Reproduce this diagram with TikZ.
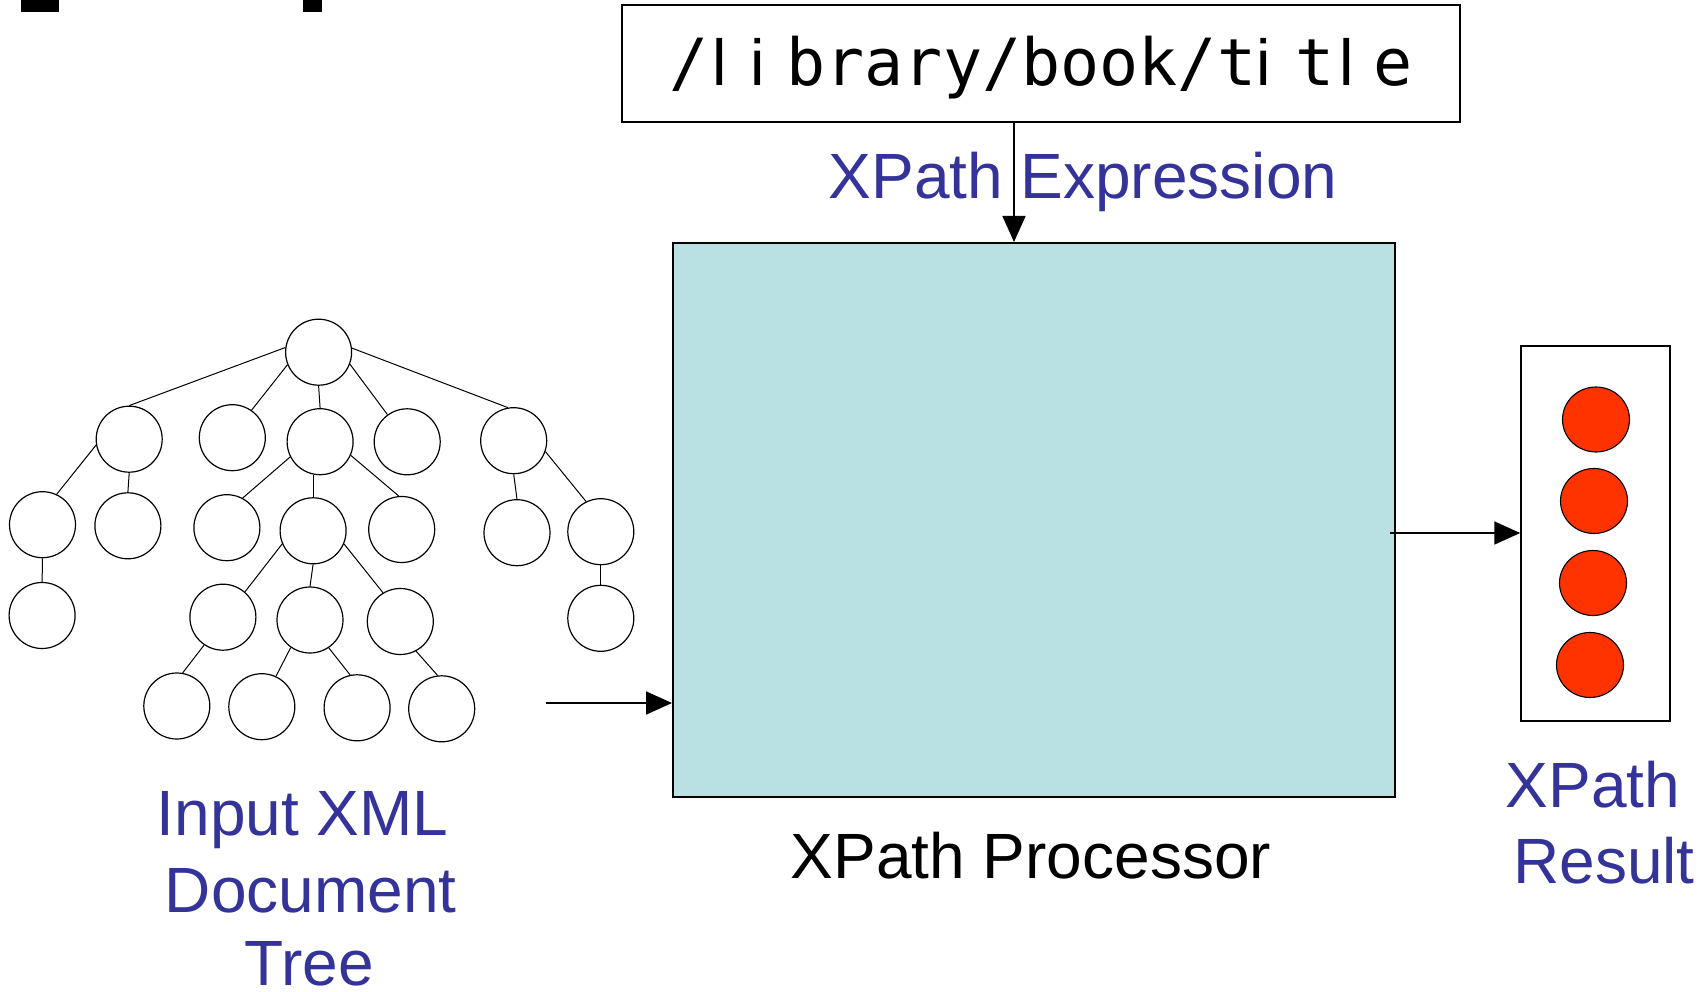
\documentclass[tikz,border=0pt]{standalone}
\usepackage{fontspec}
\setmainfont{Liberation Sans}
\newfontfamily\pathfont{DejaVu Sans Mono}
\newfontfamily\barfont{Liberation Sans}
\usetikzlibrary{arrows.meta,shapes.geometric}
\definecolor{labelblue}{RGB}{51,51,153}
\definecolor{procfill}{RGB}{185,224,227}
\definecolor{hitred}{RGB}{255,51,0}

% plain bar glyph (l, i) set in one fixed-pitch cell of the path font
\newcommand\barcell[2]{\makebox[0.602em][l]{\hspace{#1}{\barfont #2}}}

\tikzset{
  xnode/.style={circle, draw, line width=1.2pt, minimum size=66pt, inner sep=0pt},
  xedge/.style={line width=1pt},
  flow/.style={line width=1.8pt, -{Triangle[length=26pt,width=23pt]}},
  hit/.style={ellipse, draw, line width=1.1pt, fill=hitred, minimum width=67pt, minimum height=65pt, inner sep=0pt},
  big/.style={font=\fontsize{64}{77}\selectfont},
  bluelabel/.style={big, text=labelblue, inner sep=0pt, anchor=base},
  blacklabel/.style={big, inner sep=0pt, anchor=base},
}

\begin{document}
\begin{tikzpicture}[x=1pt,y=-1pt]
\useasboundingbox (0,0) rectangle (1708,992);
\fill[white] (0,0) rectangle (1708,992);

% fragments of the heading lettering at the top edge
\fill (21,0) rectangle (59,12);
\fill (303,0) rectangle (322,12);

% XPath expression box
\node[draw, line width=1.8pt, minimum width=838pt, minimum height=117pt, inner sep=0pt]
  (expr) at (1041,63.5) {};
\node[inner sep=0pt, anchor=base west, font=\pathfont\fontsize{65}{78}\selectfont] (exprtext) at (669,86)
  {/\barcell{4pt}{l}\barcell{3pt}{i}brary/book/t\barcell{0pt}{i}t\barcell{5pt}{l}e};

% processor
\node[draw, line width=2pt, fill=procfill, minimum width=721.5pt, minimum height=554pt, inner sep=0pt]
  (proc) at (1033.75,520) {};

% result set
\node[draw, line width=1.5pt, minimum width=149pt, minimum height=375pt, inner sep=0pt]
  (res) at (1595.5,533.5) {};
\node[hit] (r1) at (1596,419.5) {};
\node[hit] (r2) at (1594,501) {};
\node[hit] (r3) at (1593,583) {};
\node[hit] (r4) at (1590,665) {};

% labels
\node[bluelabel] (exprlab) at (1083,199) {XPath Expression};
\node[blacklabel] (proclab) at (1031,878) {XPath Processor};
\node[bluelabel] (reslabA) at (1593,807) {XPath};
\node[bluelabel] (reslabB) at (1604,883) {Result};
\node[bluelabel] (inlabA) at (302.5,835) {Input XML};
\node[bluelabel] (inlabB) at (310.8,912) {Document};
\node[bluelabel] (inlabC) at (309,985) {Tree};

% document tree
\node[xnode] (root) at (318.6,352.2) {};
\node[xnode] (A) at (129.2,439.2) {};
\node[xnode] (B) at (232.3,437.7) {};
\node[xnode] (C) at (320.1,441.7) {};
\node[xnode] (D) at (407.2,441.8) {};
\node[xnode] (E) at (513.7,440.7) {};
\node[xnode] (A1) at (42.5,524.7) {};
\node[xnode] (A2) at (127.9,525.8) {};
\node[xnode] (C1) at (226.9,527.7) {};
\node[xnode] (C2) at (313.1,530.8) {};
\node[xnode] (C3) at (401.7,529.5) {};
\node[xnode] (E1) at (517,532.7) {};
\node[xnode] (E2) at (600.8,531.7) {};
\node[xnode] (A1a) at (42.1,615.5) {};
\node[xnode] (C2a) at (222.9,617.2) {};
\node[xnode] (C2b) at (310,620) {};
\node[xnode] (C2c) at (400.3,621.5) {};
\node[xnode] (E2a) at (600.8,618.3) {};
\node[xnode] (L1) at (176.8,706) {};
\node[xnode] (L2) at (261.8,706.7) {};
\node[xnode] (L3) at (357.1,707.8) {};
\node[xnode] (L4) at (441.7,708.8) {};

\draw[xedge] (root.172) -- (A.north);
\draw[xedge] (root.202) -- (B.55);
\draw[xedge] (root.south) -- (C.north);
\draw[xedge] (root.339) -- (D.126);
\draw[xedge] (root.7) -- (E.100);
\draw[xedge] (A.190) -- (A1.65);
\draw[xedge] (A.south) -- (A2.north);
\draw[xedge] (A1.south) -- (A1a.north);
\draw[xedge] (C.207) -- (C1.62);
\draw[xedge] (C2.north) -- (C2.north |- C.south);
\draw[xedge] (C.336) -- (C3.95);
\draw[xedge] (C2.203) -- (C2a.49);
\draw[xedge] (C2.south) -- (C2b.north);
\draw[xedge] (C2.337) -- (C2c.121);
\draw[xedge] (C2a.236) -- (L1.80);
\draw[xedge] (C2b.235) -- (L2.65);
\draw[xedge] (C2b.304) -- (L3.102);
\draw[xedge] (C2c.298) -- (L4.97);
\draw[xedge] (E.south) -- (E1.north);
\draw[xedge] (E.341) -- (E2.116);
\draw[xedge] (E2.south) -- (E2a.north);

% data flow
\coordinate (exprout) at (1014,122);
\coordinate (treeout) at (546,703);
\coordinate (procout) at (1390,533);
\draw[flow, line width=1.3pt] (exprout) -- (exprout |- proc.north);
\draw[flow] (treeout) -- (treeout -| proc.west);
\draw[flow] (procout) -- (procout -| res.west);
\end{tikzpicture}
\end{document}
